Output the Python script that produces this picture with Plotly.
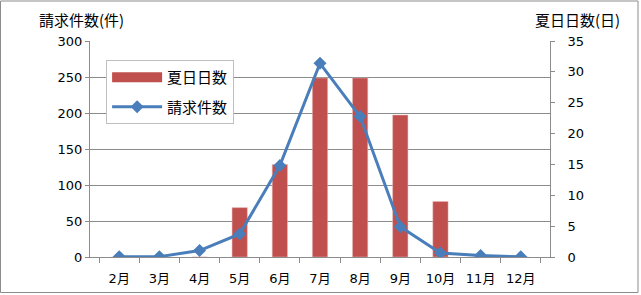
import plotly.graph_objects as go

months = ["2月", "3月", "4月", "5月", "6月", "7月", "8月", "9月", "10月", "11月", "12月"]
summer_days = [0, 0, 0, 8, 15, 29, 29, 23, 9, 0, 0]
claims = [0.5, 0.5, 9, 32, 127, 269, 195, 42, 5.5, 2, 0.3]

left_max, left_step = 300, 50
right_max, right_step = 35, 5

FONT = "DejaVu Sans, Noto Sans CJK JP"
CJK = "Noto Sans CJK JP"
GRID = "#8c8c8c"
BAR = "#C0504D"
LINE = "#4A7EBB"

fig = go.Figure()
fig.add_trace(go.Bar(
    x=months, y=summer_days, name="夏日日数", yaxis="y",
    marker=dict(color=BAR, line=dict(color="#E6B9B8", width=0.5)),
    width=0.38, showlegend=False,
))
# legend entry for the bars (wide rectangle symbol)
fig.add_trace(go.Scatter(
    x=[None], y=[None], name="夏日日数", mode="lines", yaxis="y",
    line=dict(color=BAR, width=10), legendgroup="a",
))
fig.add_trace(go.Scatter(
    x=months, y=claims, name="請求件数", yaxis="y2", mode="lines+markers",
    line=dict(color=LINE, width=3),
    marker=dict(symbol="diamond", size=10, color=LINE),
    legendgroup="b",
))

n_grid = left_max // left_step
fig.update_layout(
    width=641, height=295,
    margin=dict(l=90, r=91, t=41, b=38, autoexpand=False),
    paper_bgcolor="white", plot_bgcolor="white",
    font=dict(family=FONT, size=13, color="black"),
    xaxis=dict(
        type="category", showline=True, linecolor=GRID, linewidth=1,
        ticks="outside", tickson="boundaries", ticklen=5, tickcolor=GRID,
        showgrid=False, ticklabelstandoff=9, automargin=False,
    ),
    yaxis=dict(
        side="right", range=[0, right_max], dtick=right_step, showgrid=False,
        showline=True, linecolor=GRID, ticks="outside", ticklen=4, tickcolor=GRID,
        zeroline=False, ticklabelstandoff=10, automargin=False,
        minor=dict(tick0=0, dtick=right_max / n_grid, showgrid=True,
                   gridcolor=GRID, gridwidth=1, ticks=""),
    ),
    yaxis2=dict(
        side="left", overlaying="y", range=[0, left_max], dtick=left_step, showgrid=False,
        showline=True, linecolor=GRID, ticks="outside", ticklen=4, tickcolor=GRID,
        zeroline=False, automargin=False,
    ),
    legend=dict(
        x=0.035, y=0.912, xanchor="left", yanchor="top",
        bordercolor="#BFBFBF", borderwidth=1, bgcolor="white",
        font=dict(family=CJK, size=15), itemwidth=50, tracegroupgap=7,
    ),
    showlegend=True,
    shapes=[dict(type="rect", xref="paper", yref="paper",
                 x0=-89.5/460, x1=548/460, y0=-35.5/216, y1=256/216,
                 line=dict(color=GRID, width=1), fillcolor="rgba(0,0,0,0)")],
    annotations=[
        dict(text="請求件数(件)", xref="paper", yref="paper", x=-53/460, y=(257-19)/216,
             xanchor="left", yanchor="middle", showarrow=False, font=dict(family=CJK, size=15)),
        dict(text="夏日日数(日)", xref="paper", yref="paper", x=(533-90)/460, y=(257-19)/216,
             xanchor="left", yanchor="middle", showarrow=False, font=dict(family=CJK, size=15)),
    ],
)

fig.write_html("out.html")
